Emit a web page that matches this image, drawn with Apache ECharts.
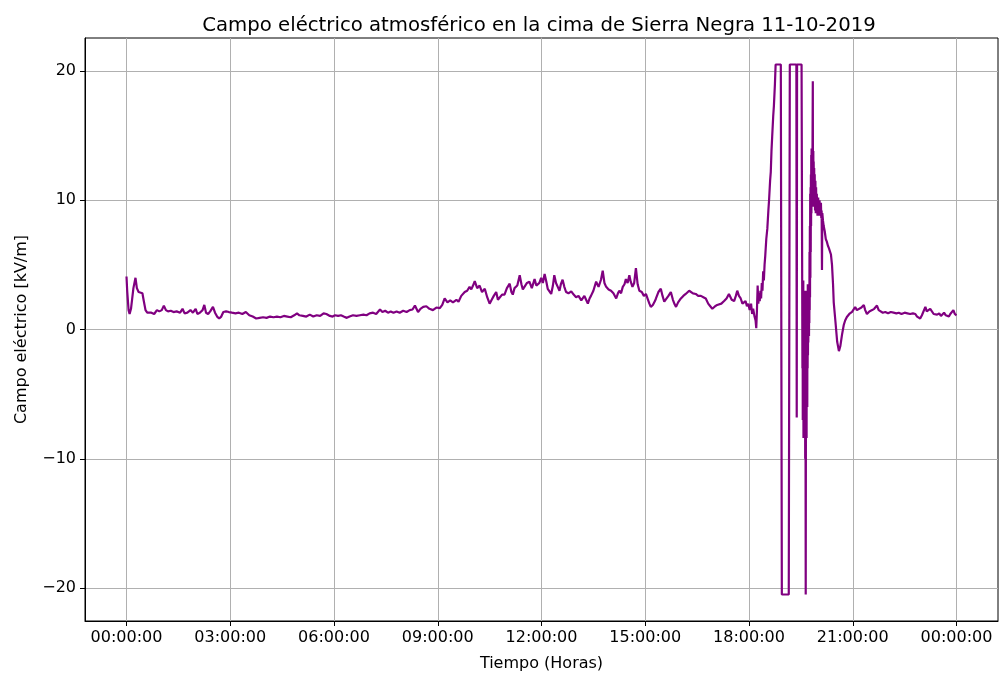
<!DOCTYPE html>
<html>
<head>
<meta charset="utf-8">
<script src="https://cdn.jsdelivr.net/npm/echarts@6/dist/echarts.min.js"></script>
<style>
  html, body { margin: 0; background: #fff; }
  #chart { width: 1000px; height: 677px; }
</style>
</head>
<body>
<div id="chart"></div>
<script>
// campo eléctrico [kV/m] vs hora del día (h)
const madrugada = [
  [0.00, 4.1], [0.02, 3.0], [0.06, 1.5], [0.09, 1.2], [0.13, 1.6], [0.20, 3.2], [0.26, 4.0], [0.30, 3.2],
  [0.35, 2.9], [0.40, 3.0], [0.46, 2.8], [0.50, 2.2], [0.55, 1.5], [0.60, 1.3], [0.65, 1.15], [0.72, 1.3],
  [0.80, 1.2], [0.88, 1.5], [0.95, 1.4], [1.02, 1.5], [1.08, 1.85], [1.14, 1.5], [1.20, 1.4], [1.28, 1.45],
  [1.36, 1.35], [1.45, 1.4], [1.55, 1.3], [1.62, 1.6], [1.68, 1.25], [1.76, 1.3], [1.85, 1.5], [1.92, 1.3],
  [2.00, 1.6], [2.05, 1.2], [2.12, 1.3], [2.20, 1.5], [2.25, 1.9], [2.30, 1.3], [2.36, 1.2], [2.42, 1.4],
  [2.50, 1.75], [2.56, 1.3], [2.62, 1.0], [2.68, 0.85], [2.74, 1.0], [2.80, 1.35], [2.88, 1.4], [2.96, 1.35],
  [3.05, 1.3], [3.15, 1.25], [3.25, 1.3], [3.35, 1.2], [3.45, 1.35], [3.55, 1.1], [3.65, 1.0], [3.75, 0.85],
  [3.85, 0.9], [3.95, 0.95], [4.05, 0.9], [4.15, 1.0], [4.25, 0.95], [4.35, 1.0], [4.45, 0.95], [4.55, 1.05],
  [4.65, 1.0], [4.75, 0.95], [4.85, 1.1], [4.93, 1.25], [5.00, 1.1], [5.10, 1.05], [5.20, 1.0], [5.30, 1.15],
  [5.40, 1.0], [5.50, 1.1], [5.60, 1.05], [5.70, 1.25], [5.78, 1.2], [5.88, 1.05], [5.96, 1.0],
  [6.03, 1.1], [6.12, 1.05], [6.20, 1.1], [6.28, 1.0], [6.37, 0.9], [6.45, 1.0], [6.55, 1.1], [6.65, 1.05],
  [6.75, 1.1], [6.85, 1.15], [6.94, 1.1], [7.03, 1.25], [7.13, 1.3], [7.22, 1.2], [7.33, 1.55], [7.40, 1.35],
  [7.48, 1.45], [7.56, 1.3], [7.64, 1.4], [7.72, 1.3], [7.81, 1.4], [7.90, 1.3], [8.00, 1.45], [8.10, 1.35],
  [8.19, 1.5], [8.27, 1.55], [8.34, 1.85], [8.43, 1.35], [8.50, 1.6], [8.58, 1.75], [8.67, 1.8], [8.76, 1.6],
  [8.86, 1.5], [8.96, 1.7]
];

const dia = [
  [9.06, 1.65], [9.13, 1.9], [9.20, 2.4], [9.28, 2.1], [9.36, 2.25], [9.44, 2.1], [9.54, 2.3], [9.60, 2.15],
  [9.68, 2.6], [9.73, 2.5], [9.78, 2.9], [9.85, 3.0], [9.92, 3.3], [9.97, 3.1], [10.02, 3.4], [10.07, 3.75],
  [10.14, 3.2], [10.21, 3.4], [10.28, 2.9], [10.36, 3.15], [10.43, 2.5], [10.50, 2.0], [10.56, 2.3], [10.62, 2.6],
  [10.69, 2.9], [10.74, 2.3], [10.79, 2.4], [10.86, 2.7], [10.93, 2.7], [11.00, 3.2], [11.08, 3.55], [11.13, 2.9],
  [11.17, 2.7], [11.22, 3.2], [11.30, 3.4], [11.37, 4.2], [11.42, 3.5], [11.46, 3.1], [11.53, 3.4], [11.58, 3.6],
  [11.65, 3.7], [11.72, 3.2], [11.80, 3.9], [11.85, 3.4], [11.89, 3.3], [11.94, 3.6], [11.99, 4.0], [12.04, 3.6],
  [12.09, 4.3], [12.14, 3.7], [12.18, 3.15], [12.23, 3.0], [12.28, 2.75], [12.33, 3.4], [12.37, 4.2], [12.42, 3.6],
  [12.47, 3.3], [12.52, 3.0], [12.56, 3.5], [12.61, 3.85], [12.66, 3.3], [12.71, 2.9], [12.78, 2.8], [12.86, 2.95],
  [12.93, 2.7], [13.00, 2.5], [13.07, 2.6], [13.15, 2.25], [13.20, 2.4], [13.24, 2.6], [13.29, 2.3], [13.34, 2.0],
  [13.39, 2.4], [13.43, 2.6], [13.50, 3.0], [13.58, 3.7], [13.65, 3.3], [13.72, 3.85], [13.77, 4.55], [13.82, 3.6],
  [13.87, 3.3], [13.94, 3.1], [14.01, 3.0], [14.08, 2.8], [14.16, 2.4], [14.21, 2.8], [14.25, 3.0], [14.30, 2.8],
  [14.35, 3.3], [14.40, 3.5], [14.44, 3.9], [14.49, 3.6], [14.54, 4.2], [14.58, 3.7], [14.63, 3.3], [14.68, 3.6],
  [14.73, 4.75], [14.78, 3.5], [14.83, 3.0], [14.90, 2.9], [14.96, 2.6], [15.02, 2.75], [15.08, 2.3], [15.12, 2.0],
  [15.16, 1.75], [15.22, 1.9], [15.28, 2.2], [15.31, 2.4], [15.38, 2.9], [15.45, 3.15], [15.50, 2.6], [15.55, 2.15],
  [15.60, 2.3], [15.67, 2.6], [15.74, 2.9], [15.80, 2.3], [15.85, 1.95], [15.89, 1.75], [15.95, 2.1], [16.03, 2.4],
  [16.10, 2.6], [16.17, 2.75], [16.22, 2.6], [16.27, 3.0], [16.32, 3.15], [16.38, 2.8], [16.46, 2.75], [16.53, 2.6],
  [16.61, 2.6], [16.68, 2.5], [16.75, 2.4], [16.82, 2.0], [16.88, 1.8], [16.94, 1.6], [17.02, 1.8], [17.08, 1.9],
  [17.13, 1.8], [17.20, 2.0], [17.28, 2.2], [17.35, 2.4], [17.42, 2.75], [17.50, 2.3], [17.57, 2.2], [17.62, 2.6],
  [17.66, 3.0], [17.71, 2.6], [17.76, 2.4], [17.81, 2.0]
];

const tormenta = [
  [17.86, 1.85], [17.90, 2.2], [17.94, 1.8], [17.98, 2.0], [18.02, 1.5], [18.06, 2.0], [18.09, 1.2], [18.12, 1.6],
  [18.16, 1.0], [18.19, 0.7], [18.21, 0.1], [18.23, 1.5], [18.25, 3.4], [18.27, 2.0], [18.29, 2.8], [18.31, 2.2],
  [18.33, 3.0], [18.35, 2.4], [18.37, 3.6], [18.39, 3.0], [18.41, 4.5], [18.43, 3.8], [18.45, 5.0], [18.47, 5.7],
  [18.50, 7.0], [18.53, 7.8], [18.56, 9.2], [18.58, 10.0], [18.61, 11.5], [18.63, 12.2], [18.65, 13.8], [18.67, 14.9],
  [18.70, 16.5], [18.72, 17.3], [18.75, 19.0], [18.77, 20.5], [18.92, 20.5], [18.95, -20.5], [19.15, -20.5], [19.18, 20.5],
  [19.37, 20.5], [19.38, -6.8], [19.39, 20.5], [19.52, 20.5], [19.54, 2.0], [19.545, -3.0], [19.55, 3.5], [19.555, -7.0],
  [19.56, 1.5], [19.565, -5.0], [19.57, 3.8], [19.575, -8.4], [19.58, 0.5], [19.585, -6.0], [19.59, 2.5], [19.595, -7.5],
  [19.60, 1.0], [19.605, -5.5], [19.61, 3.0], [19.615, -8.0], [19.62, 0.0], [19.625, -10.0], [19.63, -4.0], [19.635, -9.0],
  [19.64, -20.5], [19.645, -9.0], [19.65, 1.0], [19.655, -7.0], [19.66, 2.0], [19.665, -8.4], [19.67, 3.0], [19.675, -4.0],
  [19.68, 1.5], [19.685, -6.0], [19.69, 2.5], [19.695, -3.0], [19.70, 3.5], [19.705, -2.0], [19.71, 1.5], [19.715, -1.0],
  [19.72, 3.0], [19.725, 0.5], [19.73, 2.0], [19.735, -0.5], [19.74, 3.5], [19.745, 0.5], [19.75, 6.0], [19.755, 1.5],
  [19.76, 8.0], [19.765, 2.5], [19.77, 10.5], [19.775, 4.0], [19.78, 11.0], [19.785, 6.0], [19.79, 12.0], [19.795, 8.0],
  [19.80, 13.5], [19.805, 9.0], [19.81, 14.0], [19.815, 10.0], [19.82, 13.0], [19.83, 10.5], [19.845, 19.2], [19.85, 10.0],
  [19.86, 13.8], [19.865, 9.5], [19.87, 13.0], [19.88, 10.0], [19.885, 12.5], [19.89, 9.5], [19.90, 12.0], [19.91, 9.2],
  [19.92, 11.5], [19.93, 9.0], [19.94, 11.0], [19.95, 9.0], [19.96, 10.5], [19.98, 8.8], [20.00, 10.2], [20.02, 8.8],
  [20.04, 10.0], [20.06, 8.8], [20.08, 9.8], [20.09, 8.6], [20.10, 9.2], [20.11, 4.6], [20.12, 9.0], [20.14, 8.4],
  [20.16, 8.0], [20.19, 7.6], [20.22, 7.0], [20.25, 6.8], [20.28, 6.5], [20.31, 6.3], [20.34, 6.2], [20.37, 5.8],
  [20.40, 5.0], [20.43, 3.5], [20.45, 2.1], [20.50, 0.6], [20.55, -0.95], [20.60, -1.67], [20.64, -1.3], [20.69, -0.4],
  [20.74, 0.35], [20.78, 0.7], [20.83, 0.97], [20.90, 1.2], [20.98, 1.36]
];

const noche = [
  [21.07, 1.74], [21.12, 1.5], [21.17, 1.6], [21.25, 1.7], [21.32, 1.9], [21.36, 1.5], [21.41, 1.2], [21.48, 1.4],
  [21.56, 1.5], [21.62, 1.6], [21.70, 1.85], [21.75, 1.5], [21.80, 1.4], [21.87, 1.3], [21.94, 1.35], [22.02, 1.25],
  [22.10, 1.35], [22.18, 1.3], [22.26, 1.25], [22.33, 1.3], [22.41, 1.2], [22.50, 1.3], [22.58, 1.25], [22.66, 1.2],
  [22.74, 1.25], [22.81, 1.2], [22.86, 1.0], [22.90, 1.1], [22.95, 0.85], [23.00, 1.1], [23.05, 1.2], [23.10, 1.75],
  [23.14, 1.4], [23.19, 1.35], [23.24, 1.6], [23.29, 1.5], [23.34, 1.2], [23.39, 1.3], [23.44, 1.15], [23.50, 1.25],
  [23.55, 1.05], [23.58, 1.1], [23.64, 1.3], [23.69, 1.1], [23.73, 1.25], [23.78, 1.0], [23.82, 1.2], [23.87, 1.35],
  [23.91, 1.5], [23.95, 1.2], [24.00, 1.1]
];

const hourTicks = [0, 3, 6, 9, 12, 15, 18, 21, 24];
const fieldTicks = [-20, -10, 0, 10, 20];

const font = 'DejaVu Sans';
const hourLabel = h => String(h % 24).padStart(2, '0') + ':00:00';
const fieldLabel = v => (v < 0 ? '\u2212' + Math.abs(v) : String(v));

const chart = echarts.init(document.getElementById('chart'), null, { renderer: 'canvas' });

chart.setOption({
  animation: false,
  backgroundColor: '#fff',
  title: {
    text: 'Campo eléctrico atmosférico en la cima de Sierra Negra 11-10-2019',
    left: 534,
    top: 11,
    textAlign: 'center',
    textStyle: { fontFamily: font, fontSize: 19.7, fontWeight: 'normal', color: '#000' }
  },
  grid: {
    left: 85,
    right: 2,
    top: 38,
    bottom: 55,
    show: true,
    borderColor: '#000',
    borderWidth: 1
  },
  xAxis: {
    type: 'value',
    min: -1.2,
    max: 25.2,
    name: 'Tiempo (Horas)',
    nameLocation: 'middle',
    nameGap: 35,
    nameTextStyle: { fontFamily: font, fontSize: 16, color: '#000', verticalAlign: 'top' },
    axisLine: { show: true, onZero: false, lineStyle: { color: '#000', width: 1 } },
    axisTick: { show: true, customValues: hourTicks, length: 5, lineStyle: { color: '#000', width: 1 } },
    axisLabel: { customValues: hourTicks, formatter: hourLabel, margin: 9, fontFamily: font, fontSize: 16, color: '#000' },
    splitLine: { show: true, lineStyle: { color: '#b0b0b0', width: 1 } }
  },
  yAxis: {
    type: 'value',
    min: -22.55,
    max: 22.55,
    name: 'Campo eléctrico [kV/m]',
    nameLocation: 'middle',
    nameGap: 55,
    nameTextStyle: { fontFamily: font, fontSize: 16, color: '#000' },
    axisLine: { show: true, onZero: false, lineStyle: { color: '#000', width: 1 } },
    axisTick: { show: true, customValues: fieldTicks, length: 5, lineStyle: { color: '#000', width: 1 } },
    axisLabel: { customValues: fieldTicks, formatter: fieldLabel, margin: 9, fontFamily: font, fontSize: 16, color: '#000' },
    splitLine: { show: true, lineStyle: { color: '#b0b0b0', width: 1 } }
  },
  series: [{
    type: 'line',
    data: [...madrugada, ...dia, ...tormenta, ...noche],
    showSymbol: false,
    symbol: 'none',
    lineStyle: { color: '#800080', width: 2.2 },
    z: 3
  }]
});
</script>
</body>
</html>
